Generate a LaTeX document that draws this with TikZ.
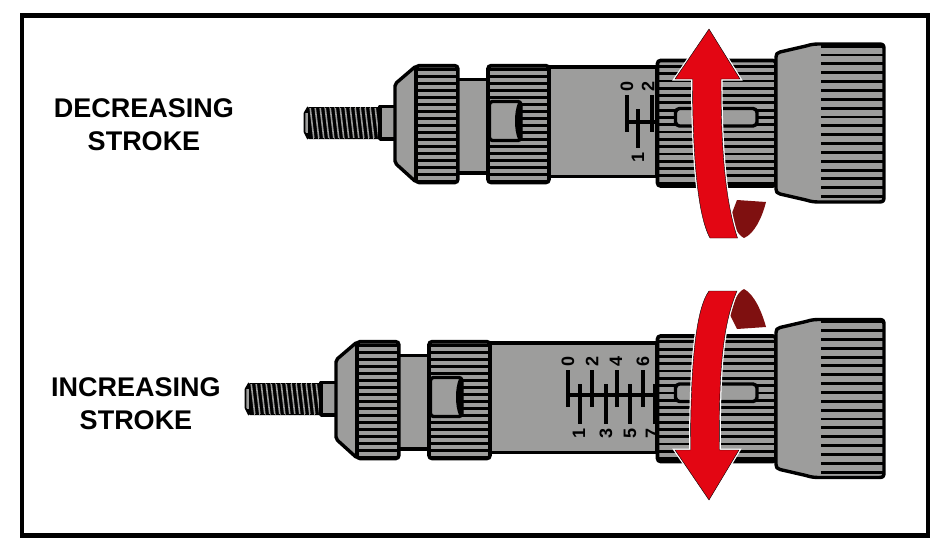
\documentclass[tikz,border=0pt]{standalone}
\usepackage{fontspec}
\setmainfont{Liberation Sans}
\definecolor{metal}{HTML}{9D9D9C}
\definecolor{redarrow}{HTML}{E30613}
\definecolor{darkarrow}{HTML}{7F1010}
\tikzset{
  part/.style={fill=metal,draw=black,line width=3.4pt,line join=round},
  frame/.style={draw=black,line width=4.8pt,fill=white,line join=miter},
  caption/.style={font=\bfseries\fontsize{27}{32}\selectfont,align=center,text=black,inner sep=0pt},
  digit/.style={font=\bfseries\fontsize{18}{18}\selectfont,rotate=90,inner sep=0pt,text=black},
  tick/.style={draw=black,line width=3.4pt},
  mainarrow/.style={fill=redarrow,preaction={draw=white,line width=3pt,line join=miter}},
  tailarrow/.style={fill=darkarrow,draw=none},
}
% knurled ring: x0,y0,x1,y1,first stripe,period,count,stripe width
\newcommand{\knurlring}[8]{%
  \fill[metal,rounded corners=3pt] (#1,#2) rectangle (#3,#4);
  \begin{scope}
    \clip (#1,#2) rectangle (#3,#4);
    \foreach \k in {0,...,#7} \draw[draw=black,line width=#8] (#1,{#5+\k*#6}) -- (#3,{#5+\k*#6});
  \end{scope}
  \draw[draw=black,line width=3.6pt,rounded corners=3pt] (#1,#2) rectangle (#3,#4);
}
% front end of the tool, drawn for the upper position
\newcommand{\frontend}{%
  % thread
  \begin{scope}
    \clip (304,113) -- (309,107) -- (380,107) -- (380,139) -- (309,139) -- (304,132) -- cycle;
    \fill[black] (304,100) rectangle (380,145);
    \foreach \k in {0,...,13} \draw[metal,line width=1.6pt] ({310+\k*5},106) -- ({314+\k*5},140);
    \fill[metal] (304,113) rectangle (308,133);
  \end{scope}
  \draw[black,line width=1.6pt,dash pattern=on 1.6pt off 1pt] (309,107.5) -- (379,107.5);
  \draw[black,line width=1.6pt,dash pattern=on 1.6pt off 1pt] (309,138.5) -- (379,138.5);
  \draw[black,line width=1.6pt,line join=round] (308,107) -- (304.5,113) -- (304.5,132) -- (308,139);
  % neck
  \draw[part] (395,106.5) -- (380,106.5) -- (380,139) -- (395,139);
  % shaft between the rings
  \draw[part] (456,79.5) rectangle (489,173);
  % cone
  \draw[part,rounded corners=2pt] (416,66) -- (395,84) -- (395,163) -- (416,182) -- cycle;
  \knurlring{416}{65.7}{457.8}{182.5}{69.7}{7}{16}{3.2pt}
  \knurlring{488}{65.7}{549}{182.5}{69.7}{7}{16}{3.2pt}
  % locking window
  \draw[part,rounded corners=3pt] (489.5,101.5) rectangle (521,140.5);
  \fill[black] (518,103) .. controls (514,112) and (514,130) .. (518,139)
     -- (522,139) -- (522,103) -- cycle;
}
% rear end of the tool, drawn for the upper position
\newcommand{\rearend}{%
  \knurlring{657.5}{60.5}{776}{186}{66.3}{7.3}{16}{2.8pt}
  \draw[part,rounded corners=4pt] (675.5,108.5) rectangle (757,126);
  \draw[part,line width=3.4pt] (776,57) .. controls (776,54) and (777,53) .. (780,52)
     -- (806,46) .. controls (812,44) and (816,44) .. (821,44)
     -- (879,44) .. controls (883,44) and (884,45) .. (884,49)
     -- (884,197) .. controls (884,201) and (883,202) .. (879,202)
     -- (821,202) .. controls (816,202) and (812,202) .. (806,200)
     -- (780,194) .. controls (777,193) and (776,192) .. (776,189) -- cycle;
  \begin{scope}
    \clip (821,44) rectangle (884,202);
    \foreach \k in {-1,...,16} \draw[draw=black,line width=2.9pt] (821,{55+\k*8.85}) -- (884,{55+\k*8.85});
  \end{scope}
}
\begin{document}
\begin{tikzpicture}[x=1pt,y=-1pt]
\useasboundingbox (0,0) rectangle (946,554);
\fill[white] (0,0) rectangle (946,554);
\draw[frame] (22,15.2) rectangle (928,535.5);

\node[caption] (decreasing) at (144,125) {DECREASING\\[1pt]STROKE};
\node[caption] (increasing) at (136,403.5) {INCREASING\\[1pt]STROKE};

% ---------- upper tool ----------
\frontend
\draw[part] (549,67) rectangle (657,176.5);
\draw[tick] (627,95) -- (627,132);
\draw[tick] (652,95) -- (652,132);
\draw[tick] (638,109) -- (638,148);
\draw[tick] (627,122) -- (656,122);
\node[digit] (u0) at (627,86) {0};
\node[digit] (u2) at (648,86) {2};
\node[digit] (u1) at (638,157) {1};
\rearend
\fill[tailarrow] (732,213) -- (737,200) -- (766,202) .. controls (762,218) and (754,234) .. (744,238) .. controls (740,236) and (737,232) .. (735,227) -- cycle;
\draw[mainarrow] (709,29) -- (740,79) -- (721,79)
   .. controls (721,130) and (723,195) .. (737.5,238)
   -- (710,238) .. controls (697,215) and (692.5,150) .. (692.5,79)
   -- (675,79) -- cycle;

% ---------- lower tool ----------
\begin{scope}[shift={(-59,276)}]
\frontend
\end{scope}
\draw[part] (490,343) rectangle (657,452.5);
\draw[tick] (568,370) -- (568,407);
\draw[tick] (592,370) -- (592,407);
\draw[tick] (617,370) -- (617,407);
\draw[tick] (643,370) -- (643,407);
\draw[tick] (580,384) -- (580,424);
\draw[tick] (606,384) -- (606,424);
\draw[tick] (630,384) -- (630,424);
\draw[tick] (655,384) -- (655,424);
\draw[tick] (568,395) -- (656,395);
\node[digit] (l0) at (568,361) {0};
\node[digit] (l2) at (592,361) {2};
\node[digit] (l4) at (616,361) {4};
\node[digit] (l6) at (643,361) {6};
\node[digit] (l1) at (579,433) {1};
\node[digit] (l3) at (606,433) {3};
\node[digit] (l5) at (630,433) {5};
\node[digit] (l7) at (652,433) {7};
\begin{scope}[shift={(0,275.5)}]
\rearend
\end{scope}
\fill[tailarrow] (730,315) -- (737,329) -- (766,327) .. controls (762,312) and (754,294) .. (744,289) .. controls (740,291) and (737,295) .. (735,300) -- cycle;
\draw[mainarrow] (709,500) -- (739,450) -- (719.5,450)
   .. controls (719,390) and (720,330) .. (737,291)
   -- (709,291) .. controls (695,310) and (690.5,370) .. (690.5,450)
   -- (675,450) -- cycle;
\end{tikzpicture}
\end{document}
